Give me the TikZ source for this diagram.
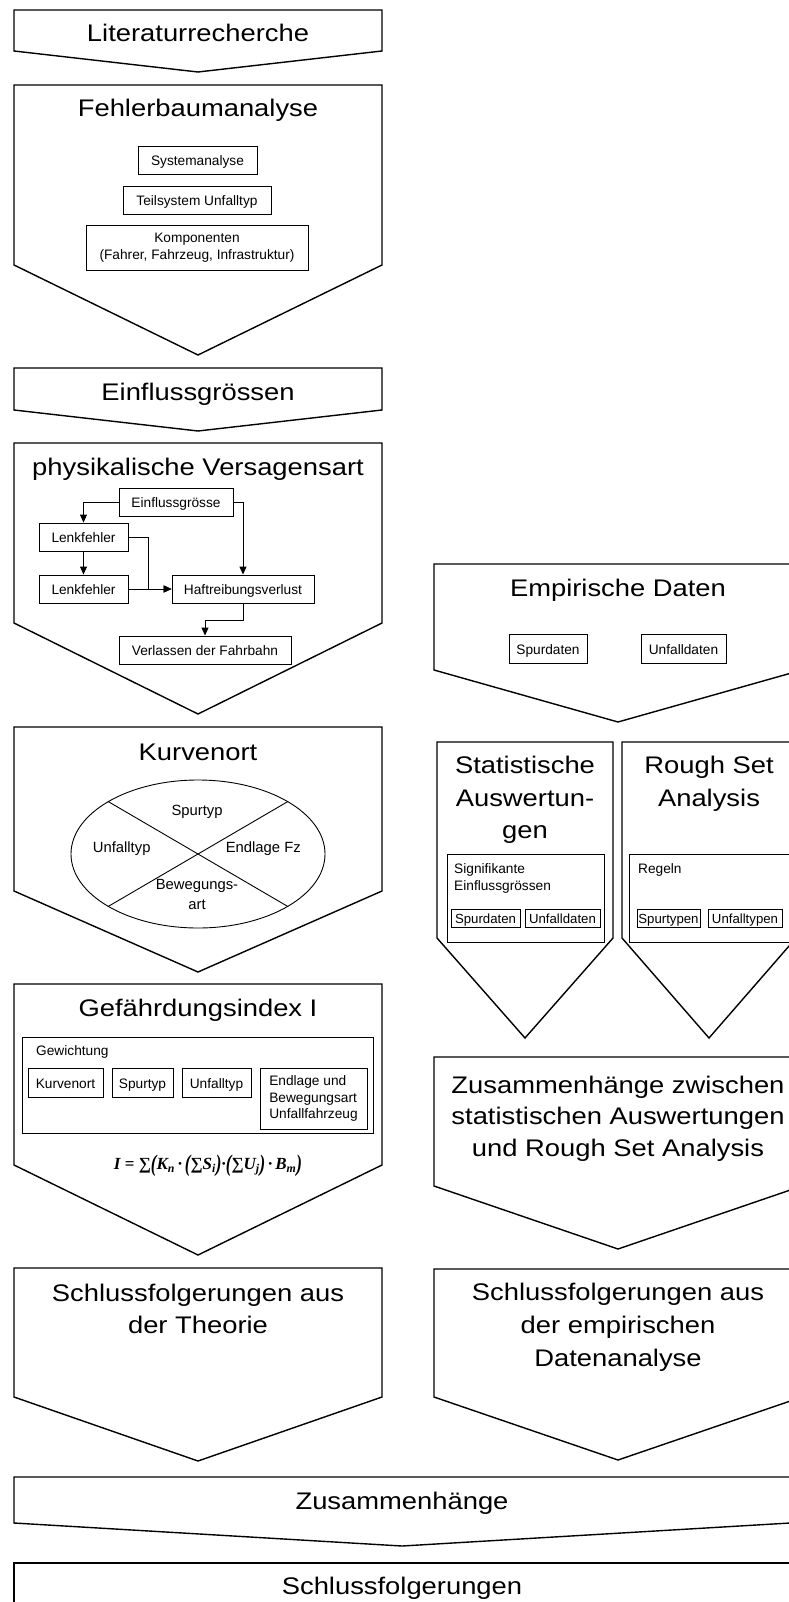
\documentclass[tikz,border=0pt]{standalone}
\usepackage{graphicx}
\usepackage{fontspec}
\setmainfont{Liberation Sans}
\newfontfamily\titlefont[FakeStretch=1.14]{Liberation Sans}
\newfontfamily\formfont{Liberation Serif}
\usetikzlibrary{arrows.meta,shapes.geometric}
\newcommand{\pentashape}[5]{%
  \draw[outer] (#1,#3) -- (#2,#3) -- (#2,#4) -- ({(#1+#2)/2},#5) -- (#1,#4) -- cycle;}
\newcommand{\bigpar}[1]{\raisebox{-0.25ex}{\scalebox{1}[1.4]{#1}}}
\begin{document}
\begin{tikzpicture}[x=1pt,y=-1pt,
  outer/.style={line width=1.4pt, line join=miter},
  ttl/.style={font=\titlefont\fontsize{24}{32}\selectfont, anchor=base, inner sep=0pt},
  sm/.style={font=\fontsize{13.7}{16.5}\selectfont},
  boxm/.style={draw, line width=0.9pt, sm, inner sep=1pt},
  box1/.style={boxm, text height=11pt, text depth=0pt},
  tinybox/.style={draw, line width=0.9pt, font=\fontsize{13.2}{15}\selectfont, inner sep=1pt, text height=10.5pt, text depth=0pt, minimum height=18pt},
  lbl/.style={sm, inner sep=0pt},
  elbl/.style={font=\fontsize{14.8}{17}\selectfont, inner sep=0pt, text height=10.6pt, text depth=0pt},
  thinln/.style={line width=0.9pt},
  conn/.style={line width=0.9pt, -{Triangle[length=8pt,width=7pt]}},
]
\useasboundingbox (0,0) rectangle (788,1602);
\fill[white] (0,0) rectangle (788,1602);

% ---- left column shapes
\pentashape{14}{382}{10}{51}{72}
\pentashape{14}{382}{85}{265}{355}
\pentashape{14}{382}{368}{410}{431}
\pentashape{14}{382}{443}{623}{714}
\pentashape{14}{382}{727}{891}{972}
\pentashape{14}{382}{984}{1165}{1255}
\pentashape{14}{382}{1268}{1397}{1461}
% ---- right column shapes
\pentashape{434}{802}{564}{670}{722}
\pentashape{437}{613}{742}{938}{1038}
\pentashape{622}{796}{742}{938}{1038}
\pentashape{434}{802}{1057}{1186}{1249}
\pentashape{434}{802}{1269}{1397}{1460}
% ---- bottom
\pentashape{14}{790}{1477}{1523}{1546}
\draw[outer] (14,1625) -- (14,1563) -- (790,1563) -- (790,1625);

% ---- titles
\node[ttl] (t1) at (198,41.7) {Literaturrecherche};
\node[ttl] (t2) at (198,116.7) {Fehlerbaumanalyse};
\node[ttl] (t3) at (198,400.7) {Einflussgrössen};
\node[ttl] (t4) at (198,475.7) {physikalische Versagensart};
\node[ttl] (t5) at (198,760) {Kurvenort};
\node[ttl] (t6) at (198,1016) {Gefährdungsindex I};
\node[ttl] (t7a) at (198,1301) {Schlussfolgerungen aus};
\node[ttl] (t7b) at (198,1333) {der Theorie};
\node[ttl] (r1) at (618,596) {Empirische Daten};
\node[ttl] (r2a) at (525,773) {Statistische};
\node[ttl] (r2b) at (525,806) {Auswertun-};
\node[ttl] (r2c) at (525,838) {gen};
\node[ttl] (r3a) at (709,773) {Rough Set};
\node[ttl] (r3b) at (709,806) {Analysis};
\node[ttl] (r4a) at (618,1093) {Zusammenhänge zwischen};
\node[ttl] (r4b) at (618,1124) {statistischen Auswertungen};
\node[ttl] (r4c) at (618,1156) {und Rough Set Analysis};
\node[ttl] (r5a) at (618,1300) {Schlussfolgerungen aus};
\node[ttl] (r5b) at (618,1333) {der empirischen};
\node[ttl] (r5c) at (618,1366) {Datenanalyse};
\node[ttl] (b1) at (402,1509) {Zusammenhänge};
\node[ttl] (b2) at (402,1594) {Schlussfolgerungen};

% ---- Fehlerbaumanalyse
\node[box1, minimum width=119pt, minimum height=28pt] (sys) at (197.5,160) {Systemanalyse};
\node[box1, minimum width=148pt, minimum height=28pt] (teil) at (197,200) {Teilsystem Unfalltyp};
\node[boxm, align=center, minimum width=222pt, minimum height=45pt] (komp) at (197,247.5) {Komponenten\\(Fahrer, Fahrzeug, Infrastruktur)};

% ---- physikalische Versagensart
\node[box1, minimum width=114pt, minimum height=28pt] (eg) at (176,502) {Einflussgrösse};
\node[box1, minimum width=89pt, minimum height=28pt] (lk1) at (83.5,537) {Lenkfehler};
\node[box1, minimum width=89pt, minimum height=28pt] (lk2) at (83.5,589) {Lenkfehler};
\node[box1, minimum width=142pt, minimum height=28pt] (hv) at (243,589) {Haftreibungsverlust};
\node[box1, minimum width=172pt, minimum height=28pt] (vf) at (205,650) {Verlassen der Fahrbahn};
\draw[conn] (eg.west) -| (lk1.north);
\draw[conn] (eg.east) -| (hv.north);
\draw[conn] (lk1.south) -- (lk2.north);
\draw[conn] (lk1.east) -- ++(20,0) |- (hv.west);
\draw[conn] (lk2.east) -- (hv.west);
\draw[conn] (hv.south) -- ++(0,17) -| (vf.north);

% ---- Kurvenort
\node[draw, ellipse, line width=0.9pt, minimum width=254pt, minimum height=148pt, inner sep=0pt] (ell) at (198,854) {};
\draw[thinln] (ell.north west) -- (ell.south east);
\draw[thinln] (ell.north east) -- (ell.south west);
\node[elbl] (e1) at (197,810) {Spurtyp};
\node[elbl] (e2) at (121.7,847) {Unfalltyp};
\node[elbl] (e3) at (263.3,847) {Endlage Fz};
\node[elbl] (e4) at (197,884.3) {Bewegungs-};
\node[elbl] (e5) at (197,903.7) {art};

% ---- Gefaehrdungsindex
\node[draw, line width=0.9pt, minimum width=351pt, minimum height=96pt, inner sep=0pt] (gewbox) at (197.5,1085) {};
\node[lbl, anchor=base west] (gewl) at (36,1055.7) {Gewichtung};
\node[box1, minimum width=75pt, minimum height=29pt] (gk) at (65.5,1082.5) {Kurvenort};
\node[box1, minimum width=61pt, minimum height=29pt] (gs) at (142.5,1082.5) {Spurtyp};
\node[box1, minimum width=69pt, minimum height=29pt] (gu) at (216.5,1082.5) {Unfalltyp};
\node[boxm, align=left, minimum width=107pt, minimum height=61pt] (ge) at (313.5,1098.5) {Endlage und\\Bewegungsart\\Unfallfahrzeug};
\node[inner sep=0pt, font=\formfont\bfseries\itshape\fontsize{17}{20}\selectfont] (formula) at (208,1166)
  {I {\upshape=} ∑\bigpar{(}K\textsubscript{n}\,·\,\bigpar{(}∑S\textsubscript{i}\bigpar{)}·\bigpar{(}∑U\textsubscript{j}\bigpar{)}\,·\,B\textsubscript{m}\bigpar{)}};

% ---- Empirische Daten
\node[box1, minimum width=78pt, minimum height=29pt] (ed1) at (548,648.5) {Spurdaten};
\node[box1, minimum width=85pt, minimum height=29pt] (ed2) at (683.5,648.5) {Unfalldaten};

% ---- Statistische Auswertungen
\node[draw, line width=0.9pt, minimum width=157pt, minimum height=88pt, inner sep=0pt] (statbox) at (525.5,898) {};
\node[lbl, anchor=base west] (sig1) at (454,873) {Signifikante};
\node[lbl, anchor=base west] (sig2) at (454,890) {Einflussgrössen};
\node[tinybox, minimum width=69pt] (sd) at (485.5,918) {Spurdaten};
\node[tinybox, minimum width=75pt] (su) at (562.5,918) {Unfalldaten};

% ---- Rough Set Analysis
\node[draw, line width=0.9pt, minimum width=160pt, minimum height=88pt, inner sep=0pt] (roughbox) at (709,898) {};
\node[lbl, anchor=base west] (reg) at (638,873) {Regeln};
\node[tinybox, minimum width=63pt] (rs) at (668.5,918) {Spurtypen};
\node[tinybox, minimum width=74pt] (ru) at (745,918) {Unfalltypen};
\end{tikzpicture}
\end{document}
